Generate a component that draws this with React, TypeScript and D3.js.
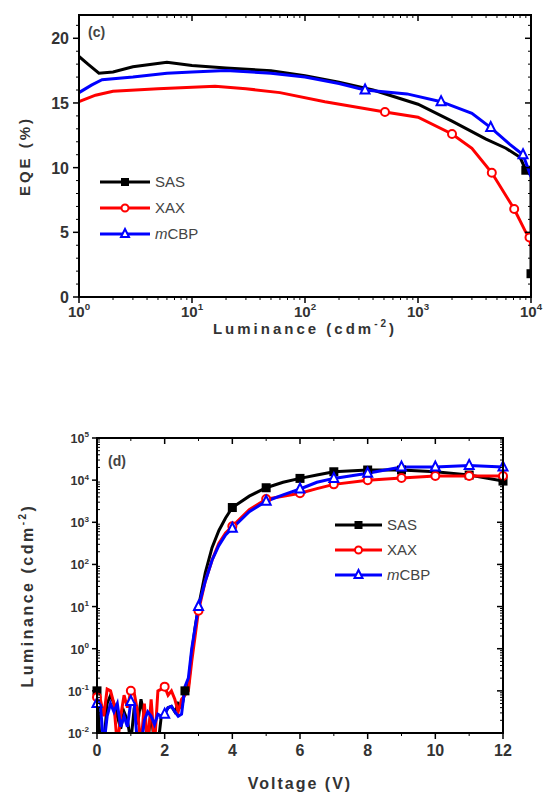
import React from 'react'
import { scaleLinear, scaleLog, line, range } from 'd3'

// (c) EQE vs luminance
const sasLum = [1, 1.2, 1.5, 2, 3, 6, 10, 20, 50, 100, 200, 400, 1000, 2000, 4000, 6000, 8000, 9000, 10000, 10000]
const sasEqe = [18.6, 18.0, 17.3, 17.4, 17.8, 18.15, 17.9, 17.7, 17.5, 17.1, 16.6, 16.0, 14.9, 13.6, 12.2, 11.5, 10.8, 9.8, 9.4, 1.8]
const sasMarkIdx = [17, 19]

const xaxLum = [1, 1.4, 2, 5, 16, 30, 60, 150, 510, 1000, 2000, 3000, 4500, 7100, 9000, 9700, 10000]
const xaxEqe = [15.1, 15.6, 15.9, 16.1, 16.3, 16.1, 15.8, 15.1, 14.3, 13.9, 12.6, 11.5, 9.6, 6.8, 5.0, 4.6, 3.9]
const xaxMarkIdx = [8, 10, 12, 13, 15]

const mcbpLum = [1, 1.3, 1.6, 3, 6, 10, 20, 50, 100, 200, 340, 800, 1600, 3000, 4400, 6500, 8500, 10000]
const mcbpEqe = [15.8, 16.4, 16.8, 17.0, 17.3, 17.4, 17.5, 17.3, 17.0, 16.5, 16.0, 15.7, 15.1, 14.2, 13.1, 11.8, 11.0, 9.3]
const mcbpMarkIdx = [10, 12, 14, 16]

const eqeTicks = [0, 5, 10, 15, 20]
const lumDecades = [0, 1, 2, 3, 4]

// (d) luminance vs voltage
const volt = [0, 0.1, 0.2, 0.3, 0.4, 0.5, 0.6, 0.7, 0.8, 0.9, 1.0, 1.1, 1.2, 1.3, 1.4, 1.5, 1.6, 1.7, 1.8, 1.9, 2.0, 2.1, 2.2, 2.3, 2.4, 2.5, 2.6,
  2.7, 2.8, 2.9, 3.0, 3.2, 3.4, 3.6, 3.8, 4.0, 4.5, 5, 5.5, 6, 6.5, 7, 8, 9, 10, 11, 12]
const sasL = [0.1, 0.005, 0.005, 0.05, 0.079, 0.05, 0.025, 0.0126, 0.032, 0.02, 0.006, 0.04, 0.016, 0.063, 0.025, 0.006, 0.032, 0.005, 0.005, 0.025, 0.028, 0.04, 0.043, 0.032, 0.05, 0.04, 0.1,
  0.126, 0.8, 3.2, 10, 63, 250, 630, 1260, 2240, 4170, 6600, 8900, 11000, 13200, 15800, 17400, 17400, 15800, 13200, 9500]
const xaxL = [0.071, 0.063, 0.025, 0.11, 0.1, 0.05, 0.005, 0.025, 0.079, 0.04, 0.1, 0.089, 0.032, 0.005, 0.05, 0.005, 0.063, 0.005, 0.1, 0.11, 0.126, 0.079, 0.1, 0.063, 0.032, 0.063, 0.079,
  0.1, 0.5, 2, 8, 40, 126, 316, 560, 800, 2000, 3550, 4170, 4900, 6300, 7940, 10000, 11200, 12600, 12600, 12600]
const mcbpL = [0.05, 0.045, 0.005, 0.025, 0.05, 0.032, 0.05, 0.014, 0.025, 0.014, 0.056, 0.05, 0.005, 0.005, 0.02, 0.032, 0.025, 0.016, 0.028, 0.025, 0.028, 0.04, 0.043, 0.032, 0.025, 0.028, 0.126,
  0.2, 1, 3.2, 10, 40, 126, 280, 500, 720, 1780, 3160, 4470, 6170, 8900, 11000, 14500, 20400, 20400, 22400, 20400]
const sasMarkV = [0, 2.6, 4, 5, 6, 7, 8, 9, 10, 11, 12]
const xaxMarkV = [0, 1, 2, 3, 4, 5, 6, 7, 8, 9, 10, 11, 12]
const mcbpMarkV = [0, 1, 2, 3, 4, 5, 6, 7, 8, 9, 10, 11, 12]
const voltTicks = [0, 2, 4, 6, 8, 10, 12]
const lumDecadesD = [-2, -1, 0, 1, 2, 3, 4, 5]

const legendNames = ['SAS', 'XAX', 'mCBP']
const colors = ['#000000', '#ff0000', '#0000ff']
const shapes = ['square', 'circle', 'triangle']

const tickColor = '#333'
const font = 'Liberation Sans, Arial, sans-serif'

const Marker = ({ x, y, shape, color, size = 9 }) => {
  const h = size / 2
  if (shape === 'square') return <rect x={x - h} y={y - h} width={size} height={size} fill={color} />
  if (shape === 'circle') return <circle cx={x} cy={y} r={h - 0.5} fill="#fff" stroke={color} strokeWidth={2} />
  return <path d={`M${x},${y - h - 1}L${x + h},${y + h - 1}L${x - h},${y + h - 1}Z`} fill="#fff" stroke={color} strokeWidth={2} />
}

const Pow = ({ x, y, e, size, anchor = 'middle' }) => (
  <text x={x} y={y} textAnchor={anchor} fontFamily={font} fontSize={size} fontWeight="bold" fill={tickColor}>
    10<tspan dy={-size * 0.45} fontSize={size * 0.65}>{e}</tspan>
  </text>
)

const Legend = ({ x, y, gap, len, size }) => (
  <g>
    {legendNames.map((n, i) => (
      <g key={n}>
        <line x1={x} x2={x + len} y1={y + i * gap} y2={y + i * gap} stroke={colors[i]} strokeWidth={3} />
        <Marker x={x + len / 2} y={y + i * gap} shape={shapes[i]} color={colors[i]} size={8} />
        <text x={x + len + 5} y={y + i * gap + 5} fontFamily={font} fontSize={size} fill="#444">
          {n === 'mCBP' ? <><tspan fontStyle="italic">m</tspan>CBP</> : n}
        </text>
      </g>
    ))}
  </g>
)

const ChartC = () => {
  const L = 79, R = 531, T = 15, B = 297
  const x = scaleLog().domain([1, 10000]).range([L, R])
  const y = scaleLinear().domain([0, 21.8]).range([B, T])
  const series = [
    [sasLum, sasEqe, sasMarkIdx],
    [xaxLum, xaxEqe, xaxMarkIdx],
    [mcbpLum, mcbpEqe, mcbpMarkIdx],
  ]
  const minorX = []
  lumDecades.slice(0, -1).forEach(d => range(2, 10).forEach(k => minorX.push(k * Math.pow(10, d))))
  const minorY = range(0, 22).filter(v => v % 5 !== 0)
  return (
    <g>
      <defs>
        <clipPath id="clipC"><rect x={L} y={T} width={R - L} height={B - T} /></clipPath>
      </defs>
      <g clipPath="url(#clipC)">
        {series.map(([xs, ys, mk], i) => {
          const pts = xs.map((v, j) => [x(v), y(ys[j])])
          return (
            <g key={i}>
              <path d={line()(pts)} fill="none" stroke={colors[i]} strokeWidth={3} />
              {mk.map(j => <Marker key={j} x={pts[j][0]} y={pts[j][1]} shape={shapes[i]} color={colors[i]} />)}
            </g>
          )
        })}
      </g>
      <rect x={L} y={T} width={R - L} height={B - T} fill="none" stroke="#000" strokeWidth={2} />
      {lumDecades.map(d => {
        const px = x(Math.pow(10, d))
        return (
          <g key={d}>
            <line x1={px} x2={px} y1={B} y2={B + 6} stroke="#000" strokeWidth={1.5} />
            <line x1={px} x2={px} y1={T} y2={T + 6} stroke="#000" strokeWidth={1.5} />
            <Pow x={px} y={B + 20} e={d} size={15} />
          </g>
        )
      })}
      {minorX.map(v => (
        <g key={v}>
          <line x1={x(v)} x2={x(v)} y1={B} y2={B + 3} stroke="#000" strokeWidth={1} />
          <line x1={x(v)} x2={x(v)} y1={T} y2={T + 3} stroke="#000" strokeWidth={1} />
        </g>
      ))}
      {eqeTicks.map(v => (
        <g key={v}>
          <line x1={L - 6} x2={L} y1={y(v)} y2={y(v)} stroke="#000" strokeWidth={1.5} />
          <line x1={R - 6} x2={R} y1={y(v)} y2={y(v)} stroke="#000" strokeWidth={1.5} />
          <text x={L - 10} y={y(v) + 6} textAnchor="end" fontFamily={font} fontSize={16} fontWeight="bold" fill={tickColor}>{v}</text>
        </g>
      ))}
      {minorY.map(v => (
        <g key={v}>
          <line x1={L - 3} x2={L} y1={y(v)} y2={y(v)} stroke="#000" strokeWidth={1} />
          <line x1={R - 3} x2={R} y1={y(v)} y2={y(v)} stroke="#000" strokeWidth={1} />
        </g>
      ))}
      <text x={88} y={37} fontFamily={font} fontSize={14} fontWeight="bold" fill="#444">(c)</text>
      <text transform={`translate(30,${(T + B) / 2}) rotate(-90)`} textAnchor="middle" fontFamily={font} fontSize={15} fontWeight="bold" letterSpacing={3} fill="#333">EQE (%)</text>
      <text x={(L + R) / 2} y={334} textAnchor="middle" fontFamily={font} fontSize={15} fontWeight="bold" letterSpacing={3} fill="#333">
        Luminance (cdm<tspan dy={-7} fontSize={10}>-2</tspan><tspan dy={7}>)</tspan>
      </text>
      <Legend x={100} y={182} gap={26} len={50} size={15} />
    </g>
  )
}

const ChartD = () => {
  const L = 97, R = 503, T = 438, B = 733
  const x = scaleLinear().domain([0, 12]).range([L, R])
  const y = scaleLog().domain([0.01, 100000]).range([B, T])
  const series = [
    [sasL, sasMarkV],
    [xaxL, xaxMarkV],
    [mcbpL, mcbpMarkV],
  ]
  const minorY = []
  lumDecadesD.slice(0, -1).forEach(d => range(2, 10).forEach(k => minorY.push(k * Math.pow(10, d))))
  const minorX = [1, 3, 5, 7, 9, 11]
  return (
    <g>
      <defs>
        <clipPath id="clipD"><rect x={L} y={T} width={R - L} height={B - T} /></clipPath>
      </defs>
      <g clipPath="url(#clipD)">
        {series.map(([ls], i) => {
          const pts = volt.map((v, j) => [x(v), y(ls[j])])
          return <path key={i} d={line()(pts)} fill="none" stroke={colors[i]} strokeWidth={3} />
        })}
      </g>
      {series.map(([ls, mv], i) => (
        <g key={i}>
          {mv.map(v => {
            const j = volt.indexOf(v)
            if (ls[j] < 0.01) return null
            return <Marker key={v} x={x(v)} y={y(ls[j])} shape={shapes[i]} color={colors[i]} />
          })}
        </g>
      ))}
      <rect x={L} y={T} width={R - L} height={B - T} fill="none" stroke="#000" strokeWidth={2} />
      {voltTicks.map(v => (
        <g key={v}>
          <line x1={x(v)} x2={x(v)} y1={B} y2={B + 6} stroke="#000" strokeWidth={1.5} />
          <line x1={x(v)} x2={x(v)} y1={T} y2={T + 6} stroke="#000" strokeWidth={1.5} />
          <text x={x(v)} y={B + 23} textAnchor="middle" fontFamily={font} fontSize={16} fontWeight="bold" fill={tickColor}>{v}</text>
        </g>
      ))}
      {minorX.map(v => (
        <g key={v}>
          <line x1={x(v)} x2={x(v)} y1={B} y2={B + 3} stroke="#000" strokeWidth={1} />
          <line x1={x(v)} x2={x(v)} y1={T} y2={T + 3} stroke="#000" strokeWidth={1} />
        </g>
      ))}
      {lumDecadesD.map(d => {
        const py = y(Math.pow(10, d))
        return (
          <g key={d}>
            <line x1={L - 5} x2={L} y1={py} y2={py} stroke="#000" strokeWidth={1.5} />
            <line x1={R - 6} x2={R} y1={py} y2={py} stroke="#000" strokeWidth={1.5} />
            <Pow x={L - 8} y={py + 5} e={d} size={12.5} anchor="end" />
          </g>
        )
      })}
      {minorY.map(v => (
        <g key={v}>
          <line x1={L} x2={L + 3} y1={y(v)} y2={y(v)} stroke="#000" strokeWidth={1} />
          <line x1={R - 3} x2={R} y1={y(v)} y2={y(v)} stroke="#000" strokeWidth={1} />
        </g>
      ))}
      <text x={108} y={466} fontFamily={font} fontSize={14} fontWeight="bold" fill="#444">(d)</text>
      <text transform={`translate(33,${(T + B) / 2 + 10}) rotate(-90)`} textAnchor="middle" fontFamily={font} fontSize={16} fontWeight="bold" letterSpacing={2.5} fill="#333">
        Luminance (cdm<tspan dy={-7} fontSize={10}>-2</tspan><tspan dy={7}>)</tspan>
      </text>
      <text x={(L + R) / 2} y={789} textAnchor="middle" fontFamily={font} fontSize={16} fontWeight="bold" letterSpacing={2} fill="#333">Voltage (V)</text>
      <Legend x={335} y={525} gap={25} len={47} size={15} />
    </g>
  )
}

export default function App() {
  return (
    <svg width={551} height={799} style={{ position: 'absolute', left: 0, top: 0, background: '#fff' }}>
      <rect width={551} height={799} fill="#fff" />
      <ChartC />
      <ChartD />
    </svg>
  )
}
